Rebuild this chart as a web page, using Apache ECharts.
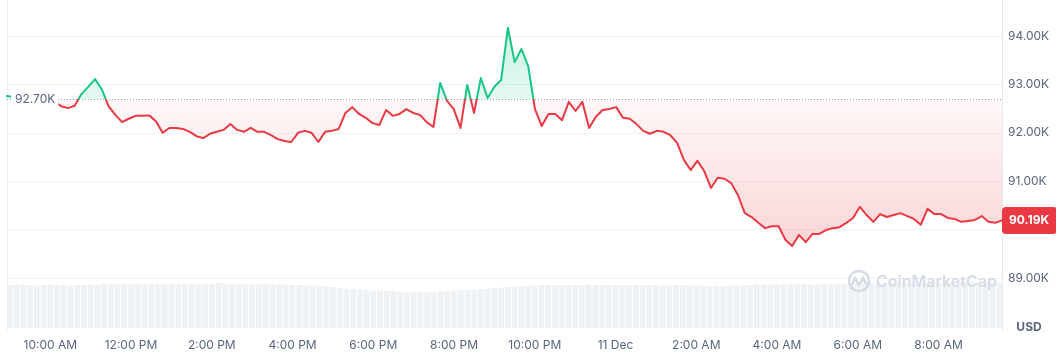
<!DOCTYPE html>
<html>
<head>
<meta charset="utf-8">
<title>BTC 1D</title>
<style>
html,body{margin:0;padding:0;background:#fff;}
#chart{width:1056px;height:353px;}
</style>
<script src="https://cdn.jsdelivr.net/npm/echarts@6.0.0/dist/echarts.min.js"></script>
</head>
<body>
<div id="chart"></div>
<script>
//时间范围，每10分钟一个点
var startTime = Date.UTC(2024, 11, 10, 9, 0);
var endTime = Date.UTC(2024, 11, 11, 9, 30);
var stepMin = 10;

//开盘参考价 / 坐标刻度 (单位 K USD)
var refPrice = 92.70;
var yMin = 89, yMax = 94, yStep = 1;

//价格
var prices = [
	92.76, 92.74, 92.72, 92.68, 92.66, 92.68, 92.66, 92.64, 92.55, 92.51,
	92.56, 92.80, 92.95, 93.11, 92.90, 92.55, 92.37, 92.22, 92.29, 92.35,
	92.35, 92.36, 92.24, 92.00, 92.10, 92.10, 92.08, 92.02, 91.93, 91.89,
	91.98, 92.02, 92.06, 92.18, 92.06, 92.02, 92.10, 92.02, 92.02, 91.95,
	91.87, 91.83, 91.81, 92.00, 92.04, 92.00, 91.81, 92.02, 92.04, 92.08,
	92.41, 92.53, 92.39, 92.31, 92.20, 92.16, 92.47, 92.35, 92.39, 92.49,
	92.41, 92.37, 92.22, 92.12, 93.03, 92.66, 92.49, 92.10, 92.99, 92.41,
	93.13, 92.72, 92.95, 93.09, 94.17, 93.46, 93.73, 93.38, 92.49, 92.14,
	92.39, 92.39, 92.26, 92.64, 92.45, 92.64, 92.10, 92.33, 92.47, 92.49,
	92.53, 92.31, 92.29, 92.18, 92.04, 91.98, 92.04, 92.02, 91.95, 91.79,
	91.44, 91.23, 91.42, 91.21, 90.86, 91.07, 91.05, 90.96, 90.71, 90.34,
	90.26, 90.14, 90.03, 90.07, 90.07, 89.79, 89.66, 89.89, 89.74, 89.91,
	89.91, 89.99, 90.03, 90.05, 90.14, 90.24, 90.47, 90.30, 90.16, 90.32,
	90.26, 90.30, 90.34, 90.28, 90.22, 90.10, 90.43, 90.32, 90.32, 90.24,
	90.22, 90.16, 90.18, 90.20, 90.28, 90.16, 90.14, 90.19
];

//成交量 (B USD)
var volumes = [
	86, 87, 86, 86, 85, 86, 87, 86, 86, 85, 86, 86, 87, 86,
	88, 88, 87, 88, 88, 89, 88, 88, 88, 87, 88, 88, 88, 89, 88,
	89, 89, 90, 89, 89, 89,
	88, 87, 87, 88, 87, 87, 87, 86, 86,
	85, 85, 84, 83,
	82, 80, 79, 78, 77,
	76, 75, 75, 74, 74, 73,
	72, 72, 72, 72, 73, 73, 74,
	75, 76, 76, 77,
	78, 79, 80, 81, 82,
	83, 84, 85, 85, 86,
	86, 86, 86, 86, 86, 86, 87, 86, 86, 86, 86, 86, 86, 86, 86, 86, 86, 85, 85, 86, 86, 86, 85,
	85, 84, 84, 84, 85, 85, 86,
	86, 87, 87, 87, 87, 87, 88, 88, 88, 87, 87, 88, 88, 88, 89,
	89, 90, 90, 90, 91, 91, 91, 91, 91, 91, 91, 91, 91, 91, 91, 91, 91, 92, 92, 91, 91, 91, 91
];

var upColor = '#16c784';
var downColor = '#ea3943';
var textColor = '#58667e';
var H = 353;

var priceData = [], volData = [];
for (var i = 0; i < prices.length; i++) {
	var t = startTime + i * stepMin * 60000;
	priceData.push([t, prices[i]]);
	volData.push([t, volumes[i]]);
}
var lastPrice = prices[prices.length - 1];

function fmtTime(val) {
	var d = new Date(val);
	var h = d.getUTCHours();
	if (d.getUTCMinutes() !== 0 || h % 2 !== 0) return '';
	if (h === 0) return d.getUTCDate() + ' Dec';
	var h12 = h % 12 === 0 ? 12 : h % 12;
	return h12 + ':00 ' + (h < 12 ? 'AM' : 'PM');
}

var myChart = echarts.init(document.getElementById('chart'));
var option = {
	animation: false,
	useUTC: true,
	textStyle: { fontFamily: 'Inter' },
	grid: [
		{ left: 7, right: 54, top: 36, bottom: 75 },
		{ left: 7, right: 54, top: 278, bottom: 25 },
		{ left: 7, right: 54, top: 0, bottom: 23 }
	],
	xAxis: [
		{ type: 'time', gridIndex: 0, min: startTime, max: endTime, show: false },
		{
			type: 'time', gridIndex: 1, min: startTime, max: endTime,
			minInterval: 7200000, maxInterval: 7200000,
			axisLine: { show: false }, axisTick: { show: false }, splitLine: { show: false },
			axisLabel: { color: textColor, fontSize: 12, fontFamily: 'Inter', margin: 11, formatter: fmtTime }
		},
		{ type: 'value', gridIndex: 2, min: 0, max: 1, show: false }
	],
	yAxis: [
		{
			type: 'value', gridIndex: 0, position: 'right', min: yMin, max: yMax, interval: yStep,
			axisLine: { show: false }, axisTick: { show: false },
			splitLine: { lineStyle: { color: '#eff2f5', width: 1 } },
			axisLabel: {
				color: textColor, fontSize: 12, fontFamily: 'Inter', margin: 6,
				formatter: function (v) { return v.toFixed(2) + 'K'; }
			}
		},
		{ type: 'value', gridIndex: 1, min: 0, max: 100, show: false },
		{
			type: 'value', gridIndex: 2, position: 'left', min: 0, max: 1,
			axisLine: { show: true, lineStyle: { color: '#eef0f3' } },
			axisTick: { show: false }, axisLabel: { show: false }, splitLine: { show: false }
		},
		{
			type: 'value', gridIndex: 2, position: 'right', min: 0, max: 1,
			axisLine: { show: true, lineStyle: { color: '#e6e9ee' } },
			axisTick: { show: false }, axisLabel: { show: false }, splitLine: { show: false }
		}
	],
	series: [
		{
			name: 'Volume', type: 'bar', xAxisIndex: 1, yAxisIndex: 1,
			data: volData, barWidth: '86%', silent: true,
			itemStyle: { color: '#eff2f5' }
		},
		{
			name: 'Price', type: 'line', xAxisIndex: 0, yAxisIndex: 0,
			data: priceData, showSymbol: false, clip: false, z: 3,
			lineStyle: { width: 2, join: 'round', cap: 'round' },
			areaStyle: { origin: refPrice },
			markLine: {
				silent: true, symbol: 'none', animation: false,
				data: [
					{ yAxis: refPrice, lineStyle: { color: '#98a0b3', type: [1, 2], width: 1 }, label: { show: false } },
					{
						yAxis: lastPrice, lineStyle: { color: 'rgba(0,0,0,0)', width: 1 },
						label: {
							show: true, position: 'end', distance: 0,
							formatter: lastPrice.toFixed(2) + 'K',
							backgroundColor: downColor, color: '#fff', fontWeight: 'bold',
							fontSize: 12, fontFamily: 'Inter', padding: [8, 8, 7, 7], borderRadius: 4
						}
					}
				]
			}
		}
	]
};
myChart.setOption(option);

//参考线位置，红绿分界
var baseY = myChart.convertToPixel({ gridIndex: 0 }, [startTime, refPrice])[1];
var k = baseY / H;
var lineGrad = new echarts.graphic.LinearGradient(0, 0, 0, H, [
	{ offset: 0, color: upColor },
	{ offset: k, color: upColor },
	{ offset: k, color: downColor },
	{ offset: 1, color: downColor }
], true);
var areaGrad = new echarts.graphic.LinearGradient(0, 0, 0, H, [
	{ offset: 0, color: 'rgba(22,199,132,0.34)' },
	{ offset: k, color: 'rgba(22,199,132,0.17)' },
	{ offset: k, color: 'rgba(234,57,67,0.05)' },
	{ offset: 250 / H, color: 'rgba(234,57,67,0.30)' },
	{ offset: 1, color: 'rgba(234,57,67,0.34)' }
], true);

myChart.setOption({
	series: [{}, { lineStyle: { color: lineGrad }, areaStyle: { color: areaGrad } }],
	graphic: [
		{
			type: 'text', x: 11, y: baseY, z: 20,
			style: {
				text: refPrice.toFixed(2) + 'K', fill: textColor, font: '12px Inter',
				verticalAlign: 'middle', align: 'left', backgroundColor: '#fff', padding: [3, 3, 3, 4]
			}
		},
		{
			type: 'circle', z: 20, shape: { cx: 859, cy: 281, r: 10 },
			style: { fill: 'none', stroke: '#d6dce6', lineWidth: 2.5 }
		},
		{
			type: 'polyline', z: 20,
			shape: { points: [[852, 285], [855, 278], [859, 285], [863, 278], [866, 284]] },
			style: { fill: 'none', stroke: '#d6dce6', lineWidth: 2.5 }
		},
		{
			type: 'text', x: 876, y: 282, z: 20,
			style: { text: 'CoinMarketCap', fill: '#d6dce6', font: '600 16px Inter', verticalAlign: 'middle' }
		},
		{
			type: 'text', x: 1029, y: 327, z: 20,
			style: { text: 'USD', fill: textColor, font: 'bold 12px Inter', align: 'center', verticalAlign: 'middle' }
		}
	]
});
</script>
</body>
</html>
